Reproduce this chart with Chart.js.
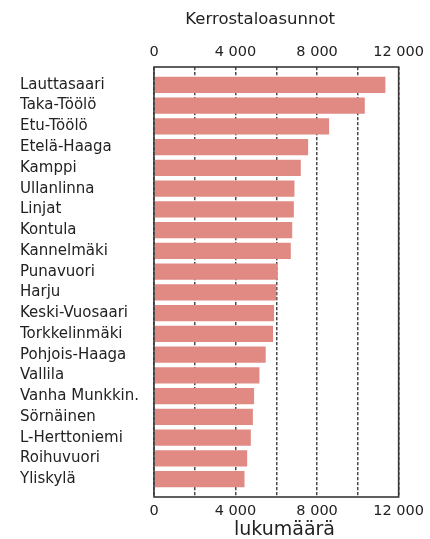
<!DOCTYPE html>
<html>
<head>
<meta charset="utf-8">
<script src="https://cdn.jsdelivr.net/npm/chart.js@4.4.0/dist/chart.umd.min.js"></script>
<style>
html, body { margin: 0; padding: 0; background: #fff; }
#wrap { width: 430px; height: 539px; }
</style>
</head>
<body>
<div id="wrap"><canvas id="housingChart"></canvas></div>
<script>
const districts = [
	"Lauttasaari", "Taka-Töölö", "Etu-Töölö", "Etelä-Haaga", "Kamppi",
	"Ullanlinna", "Linjat", "Kontula", "Kannelmäki", "Punavuori",
	"Harju", "Keski-Vuosaari", "Torkkelinmäki", "Pohjois-Haaga", "Vallila",
	"Vanha Munkkin.", "Sörnäinen", "L-Herttoniemi", "Roihuvuori", "Yliskylä"
];
const apartments = [
	11350, 10340, 8590, 7560, 7200,
	6890, 6860, 6780, 6710, 6070,
	6000, 5890, 5840, 5480, 5170,
	4910, 4850, 4750, 4570, 4440
];
const tickValues = [0, 4000, 8000, 12000];
const tickLabels = ["0", "4 000", "8 000", "12 000"];
const gridStep = 2000;
const topTitle = "Kerrostaloasunnot";
const bottomTitle = "lukumäärä";

const FONT = "'DejaVu Sans', Verdana, sans-serif";
const TEXT = "#222";

window.addEventListener("DOMContentLoaded", () => {
	const ctx = document.getElementById("housingChart").getContext("2d");

	// value -> label, blank between the labelled ticks
	const xTickLabel = (v) => {
		const i = tickValues.indexOf(v);
		return i >= 0 ? tickLabels[i] : "";
	};

	const xTicks = {
		stepSize: gridStep,
		padding: 6,
		color: TEXT,
		maxRotation: 0,
		autoSkip: false,
		font: { family: FONT, size: 14.5 },
		callback: xTickLabel,
	};

	// frame round the plot + the two titles
	const framePlugin = {
		id: "frame",
		afterDraw(chart) {
			const { ctx, chartArea: a } = chart;
			ctx.save();
			ctx.strokeStyle = "#3a3636";
			ctx.lineWidth = 1.6;
			ctx.strokeRect(a.left, a.top, a.right - a.left, a.bottom - a.top);

			ctx.fillStyle = TEXT;
			ctx.textAlign = "right";
			ctx.textBaseline = "middle";
			ctx.font = "16.5px " + FONT;
			ctx.fillText(topTitle, 335, 20);
			ctx.font = "19px " + FONT;
			ctx.fillText(bottomTitle, 335, 530);
			ctx.restore();
		},
	};

	const config = {
		type: "bar",
		data: {
			datasets: [
				{
					label: "Kerrostaloasunnot",
					data: apartments.map((v, i) => ({ x: v, y: i })),
					backgroundColor: "#e08a83",
					borderWidth: 0,
					barPercentage: 0.785,
					categoryPercentage: 1,
				},
			],
		},
		options: {
			indexAxis: "y",
			responsive: true,
			maintainAspectRatio: false,
			animation: false,
			layout: {
				padding: { left: 20, right: 30, top: 37.6, bottom: 12.6 },
			},
			scales: {
				x: {
					type: "linear",
					position: "bottom",
					min: 0,
					max: 12000,
					// in v4 border.dash is what dashes the grid lines
					border: { display: false, dash: [3.3, 1.7] },
					grid: {
						color: "#4a4a4a",
						lineWidth: 1.5,
						drawTicks: false,
					},
					ticks: xTicks,
				},
				x2: {
					type: "linear",
					position: "top",
					min: 0,
					max: 12000,
					border: { display: false },
					grid: { display: false, drawTicks: false },
					ticks: xTicks,
				},
				y: {
					type: "linear",
					reverse: true,
					offset: false,
					bounds: "data",
					min: -0.86,
					max: districts.length - 1 + 0.86,
					border: { display: false },
					grid: { display: false, drawTicks: false, offset: false },
					afterBuildTicks: (s) => {
						s.ticks = districts.map((d, i) => ({ value: i }));
					},
					afterFit: (s) => {
						s.width = 134;
					},
					ticks: {
						crossAlign: "far",
						autoSkip: false,
						color: TEXT,
						font: { family: FONT, size: 15 },
						callback: (v) => districts[v],
					},
				},
			},
			plugins: {
				legend: { display: false },
				tooltip: { enabled: false },
			},
		},
		plugins: [framePlugin],
	};

	new Chart(ctx, config);
});
</script>
</body>
</html>
